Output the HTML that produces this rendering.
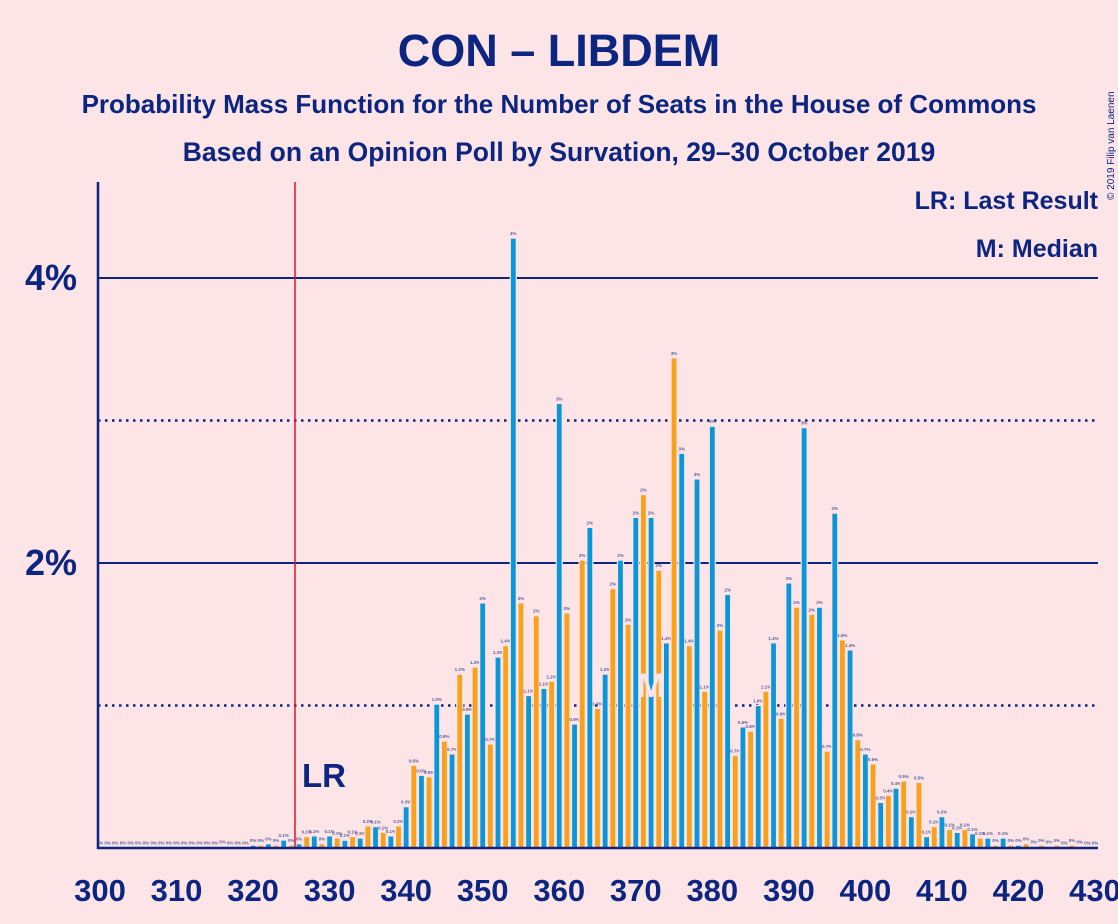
<!DOCTYPE html>
<html><head><meta charset="utf-8"><style>
html,body{margin:0;padding:0;background:#fce4e7;}
svg{display:block;font-family:"Liberation Sans",sans-serif;}
</style></head><body>
<svg id="chart" width="1118" height="924" viewBox="0 0 1118 924" xmlns="http://www.w3.org/2000/svg">
<rect width="1118" height="924" fill="#fce4e7"/>
<text x="559" y="66" text-anchor="middle" font-size="45" font-weight="bold" fill="#0b2580">CON – LIBDEM</text>
<text x="559" y="113" text-anchor="middle" font-size="26" font-weight="bold" fill="#0b2580">Probability Mass Function for the Number of Seats in the House of Commons</text>
<text x="559" y="161" text-anchor="middle" font-size="26.5" font-weight="bold" fill="#0b2580">Based on an Opinion Poll by Survation, 29–30 October 2019</text>
<text x="1098" y="209" text-anchor="end" font-size="25" font-weight="bold" fill="#0b2580">LR: Last Result</text>
<text x="1098" y="257" text-anchor="end" font-size="25" font-weight="bold" fill="#0b2580">M: Median</text>
<text transform="translate(1114,200) rotate(-90)" font-size="10" fill="#0b2580">© 2019 Filip van Laenen</text>
<g id="grid"></g>
<g id="bars"></g>
<g id="axes"></g>
</svg>
<script>
const seats = [];
for (let s = 300; s <= 430; s++) seats.push(s);
const probs = [
0.005,0.005,0.005,0.005,0.005,0.005,0.005,0.005,0.005,0.005,
0.005,0.005,0.005,0.005,0.005,0.005,0.01,0.005,0.005,0.005,
0.02,0.02,0.03,0.02,0.056,0.02,0.03,0.08,0.085,0.03,
0.085,0.07,0.055,0.08,0.07,0.155,0.15,0.11,0.085,0.155,
0.29,0.58,0.51,0.5,1.01,0.75,0.66,1.22,0.94,1.27,
1.72,0.73,1.34,1.42,4.28,1.72,1.07,1.63,1.12,1.17,
3.12,1.65,0.87,2.02,2.25,0.98,1.22,1.82,2.02,1.57,
2.32,2.48,2.32,1.95,1.44,3.44,2.77,1.42,2.59,1.10,
2.96,1.53,1.78,0.65,0.85,0.82,1.00,1.10,1.44,0.91,
1.86,1.69,2.95,1.64,1.69,0.68,2.35,1.46,1.39,0.76,
0.66,0.59,0.32,0.37,0.42,0.47,0.22,0.46,0.08,0.15,
0.22,0.13,0.11,0.13,0.10,0.07,0.07,0.02,0.07,0.02,
0.02,0.03,0.01,0.02,0.01,0.02,0.005,0.02,0.01,0.003,0.003
];
const xTicks = [300,310,320,330,340,350,360,370,380,390,400,410,420,430];
const yTicks = [1,2,3,4];
const yTickLabels = ["","2%","","4%"];
const lastResult = 326;
const median = 372;

const NS = "http://www.w3.org/2000/svg";
const X0 = 100, X1 = 1095, Y0 = 848, PX_PER_PCT = 142.5;
const xs = s => X0 + (s - 300) * (X1 - X0) / 130;
const ys = v => Y0 - v * PX_PER_PCT;
function mk(tag, attrs, parent) {
  const e = document.createElementNS(NS, tag);
  for (const k in attrs) e.setAttribute(k, attrs[k]);
  parent.appendChild(e);
  return e;
}
const grid = document.getElementById('grid');
const bars = document.getElementById('bars');
const axes = document.getElementById('axes');
const navy = "#0b2580";

yTicks.forEach((t, i) => {
  const major = t % 2 === 0;
  const l = mk('line', {x1: 98, x2: 1098, y1: ys(t), y2: ys(t), stroke: navy,
    'stroke-width': major ? 2 : 2.5, 'stroke-dasharray': major ? 'none' : '2.5 4.5'}, grid);
  
  
  if (yTickLabels[i]) {
    const tx = mk('text', {x: 77, y: ys(t) + 12, 'text-anchor': 'end', 'font-size': 36, 'font-weight': 'bold', fill: navy}, axes);
    tx.textContent = yTickLabels[i];
    
    
  }
});

function fmt(v) {
  if (v < 0.05) return "0%";
  if (v >= 1.5) return Math.round(v) + "%";
  return v.toFixed(1) + "%";
}

seats.forEach((s, i) => {
  const v = probs[i];
  const cx = xs(s);
  const r = mk('rect', {x: cx - 3, y: ys(v), width: 6, height: Y0 - ys(v),
    fill: s % 2 === 0 ? '#0a97d9' : '#f9a11b', stroke: '#fce4e7', 'stroke-width': 1.2}, bars);
  
  
  const t = mk('text', {x: cx, y: ys(v) - 3, 'text-anchor': 'middle', 'font-size': 4.5, 'font-weight': 'bold', fill: '#5a5f9a'}, bars);
  t.textContent = fmt(v);
  
  
});

const lr = mk('line', {x1: xs(lastResult) - 4, x2: xs(lastResult) - 4, y1: 182, y2: 848, stroke: '#e0142c', 'stroke-width': 1.5}, axes);


const lrt = mk('text', {x: xs(lastResult) + 3, y: 787, 'font-size': 33, 'font-weight': 'bold', fill: navy}, axes);
lrt.textContent = 'LR';


const mt = mk('text', {x: xs(median), y: 697, 'text-anchor': 'middle', 'font-size': 34, 'font-weight': 'bold', fill: '#fce4e7'}, axes);
mt.textContent = 'M';



const ya = mk('line', {x1: 98, x2: 98, y1: 182, y2: 849, stroke: navy, 'stroke-width': 2.5}, axes);


const xa = mk('line', {x1: 97, x2: 1098, y1: 848, y2: 848, stroke: navy, 'stroke-width': 2.5}, axes);



xTicks.forEach(t => {
  const tx = mk('text', {x: xs(t), y: 901, 'text-anchor': 'middle', 'font-size': 31, 'font-weight': 'bold', fill: navy}, axes);
  tx.textContent = t;
  
  
});
</script>
</body></html>
